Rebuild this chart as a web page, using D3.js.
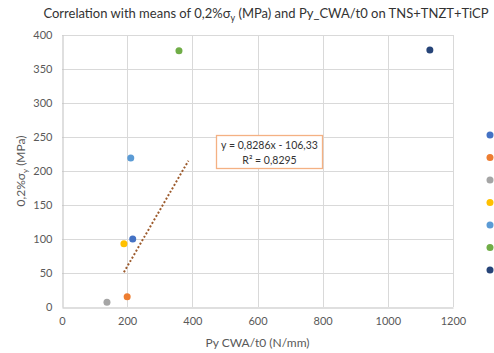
<!DOCTYPE html>
<html>
<head>
<meta charset="utf-8">
<script src="https://cdn.jsdelivr.net/npm/d3@7"></script>
<style>
    body { margin: 0; background: #fff; }
    svg { font-family: Lato, "Open Sans", sans-serif; }
</style>
</head>
<body>
<div id="chart"></div>
<script>
// data
const seriesNames = ["S1", "S2", "S3", "S4", "S5", "S6", "S7"];
const seriesColors = ["#4472c4", "#ed7d31", "#a5a5a5", "#ffc000", "#5b9bd5", "#70ad47", "#264478"];
const xValues = [217, 200, 138, 190, 211, 359, 1129];
const yValues = [100, 15, 7, 93, 219, 377, 378];
const xTicks = [0, 200, 400, 600, 800, 1000, 1200];
const yTicks = [0, 50, 100, 150, 200, 250, 300, 350, 400];
const trendSlope = 0.8286;
const trendIntercept = -106.33;
const trendRange = [190, 388];

const width = 494, height = 353;
const margin = {top: 35, right: 41, bottom: 46, left: 62};

const svg = d3.select("#chart").append("svg")
    .attr("width", width)
    .attr("height", height);

let plotW = width - margin.left - margin.right;
let plotH = height - margin.top - margin.bottom;

const g = svg.append("g")
    .attr("transform", `translate(${margin.left},${margin.top})`);

// Scales
let x = d3.scaleLinear().domain([0, 1200]).range([0, plotW]);
let y = d3.scaleLinear().domain([0, 400]).range([plotH, 0]);

// Gridlines
g.append("g")
    .selectAll("line.h")
    .data(yTicks.filter(d => d > 0))
    .join("line")
    .attr("x1", 0).attr("x2", plotW)
    .attr("y1", d => y(d) + 0.5).attr("y2", d => y(d) + 0.5)
    .attr("stroke", "#d9d9d9");
g.append("g")
    .selectAll("line.v")
    .data(xTicks.filter(d => d > 0))
    .join("line")
    .attr("x1", d => Math.round(x(d)) + 0.5).attr("x2", d => Math.round(x(d)) + 0.5)
    .attr("y1", 0).attr("y2", plotH)
    .attr("stroke", "#d9d9d9");

// Axes
let xAxis = d3.axisBottom(x).tickValues(xTicks).tickFormat(d3.format("d")).tickSize(0).tickPadding(10);
let yAxis = d3.axisLeft(y).tickValues(yTicks).tickFormat(d3.format("d")).tickSize(0).tickPadding(10);

g.append("g")
    .attr("transform", `translate(0,${plotH + 0.5})`)
    .call(xAxis)
    .call(a => a.select(".domain").attr("stroke", "#bfbfbf"))
    .selectAll("text")
    .attr("font-size", 11)
    .attr("font-family", "Lato, sans-serif")
    .attr("fill", "#595959");

g.append("g")
    .attr("transform", "translate(0.5,0)")
    .call(yAxis)
    .call(a => a.select(".domain").attr("stroke", "#bfbfbf"))
    .selectAll("text")
    .attr("font-size", 11)
    .attr("font-family", "Lato, sans-serif")
    .attr("fill", "#595959");

// Trendline
g.append("line")
    .attr("x1", x(trendRange[0]))
    .attr("y1", y(trendSlope * trendRange[0] + trendIntercept))
    .attr("x2", x(trendRange[1]))
    .attr("y2", y(trendSlope * trendRange[1] + trendIntercept))
    .attr("stroke", "#9c5a2c")
    .attr("stroke-width", 2)
    .attr("stroke-dasharray", "2,2");

// Points
g.selectAll("circle.pt")
    .data(xValues.map((d, i) => ({x: d, y: yValues[i], c: seriesColors[i]})))
    .join("circle")
    .attr("class", "pt")
    .attr("cx", d => x(d.x))
    .attr("cy", d => y(d.y))
    .attr("r", 3.5)
    .attr("fill", d => d.c);

// Equation box
const box = svg.append("g").attr("transform", "translate(216.5,135.5)");
box.append("rect")
    .attr("width", 106)
    .attr("height", 33)
    .attr("fill", "#fff")
    .attr("stroke", "#f4b183")
    .attr("stroke-width", 1.3);
box.append("text")
    .attr("x", 53).attr("y", 13)
    .attr("text-anchor", "middle")
    .attr("font-size", 10.5)
    .attr("fill", "#333")
    .text("y = 0,8286x - 106,33");
box.append("text")
    .attr("x", 53).attr("y", 28)
    .attr("text-anchor", "middle")
    .attr("font-size", 10.5)
    .attr("fill", "#333")
    .text("R² = 0,8295");

// Legend (labels fall outside the picture)
svg.selectAll("circle.leg")
    .data(seriesNames)
    .join("circle")
    .attr("class", "leg")
    .attr("cx", 490)
    .attr("cy", (d, i) => 135 + i * 22.5)
    .attr("r", 3.5)
    .attr("fill", (d, i) => seriesColors[i]);

// Title
const title = svg.append("text")
    .attr("x", 266).attr("y", 18)
    .attr("text-anchor", "middle")
    .attr("font-size", 13)
    .attr("fill", "#333");
title.append("tspan").text("Correlation with means of 0,2%σ");
title.append("tspan").attr("font-size", 9).attr("dy", 3).text("y");
title.append("tspan").attr("dy", -3).text(" (MPa) and Py_CWA/t0 on TNS+TNZT+TiCP");

// Axis titles
svg.append("text")
    .attr("x", margin.left + plotW / 2)
    .attr("y", 347)
    .attr("text-anchor", "middle")
    .attr("font-size", 12)
    .attr("fill", "#595959")
    .text("Py CWA/t0 (N/mm)");

const yt = svg.append("text")
    .attr("transform", `translate(25,${margin.top + plotH / 2}) rotate(-90)`)
    .attr("text-anchor", "middle")
    .attr("font-size", 12)
    .attr("fill", "#595959");
yt.append("tspan").text("0,2%σ");
yt.append("tspan").attr("font-size", 8).attr("dy", 3).text("y");
yt.append("tspan").attr("dy", -3).text(" (MPa)");
</script>
</body>
</html>
